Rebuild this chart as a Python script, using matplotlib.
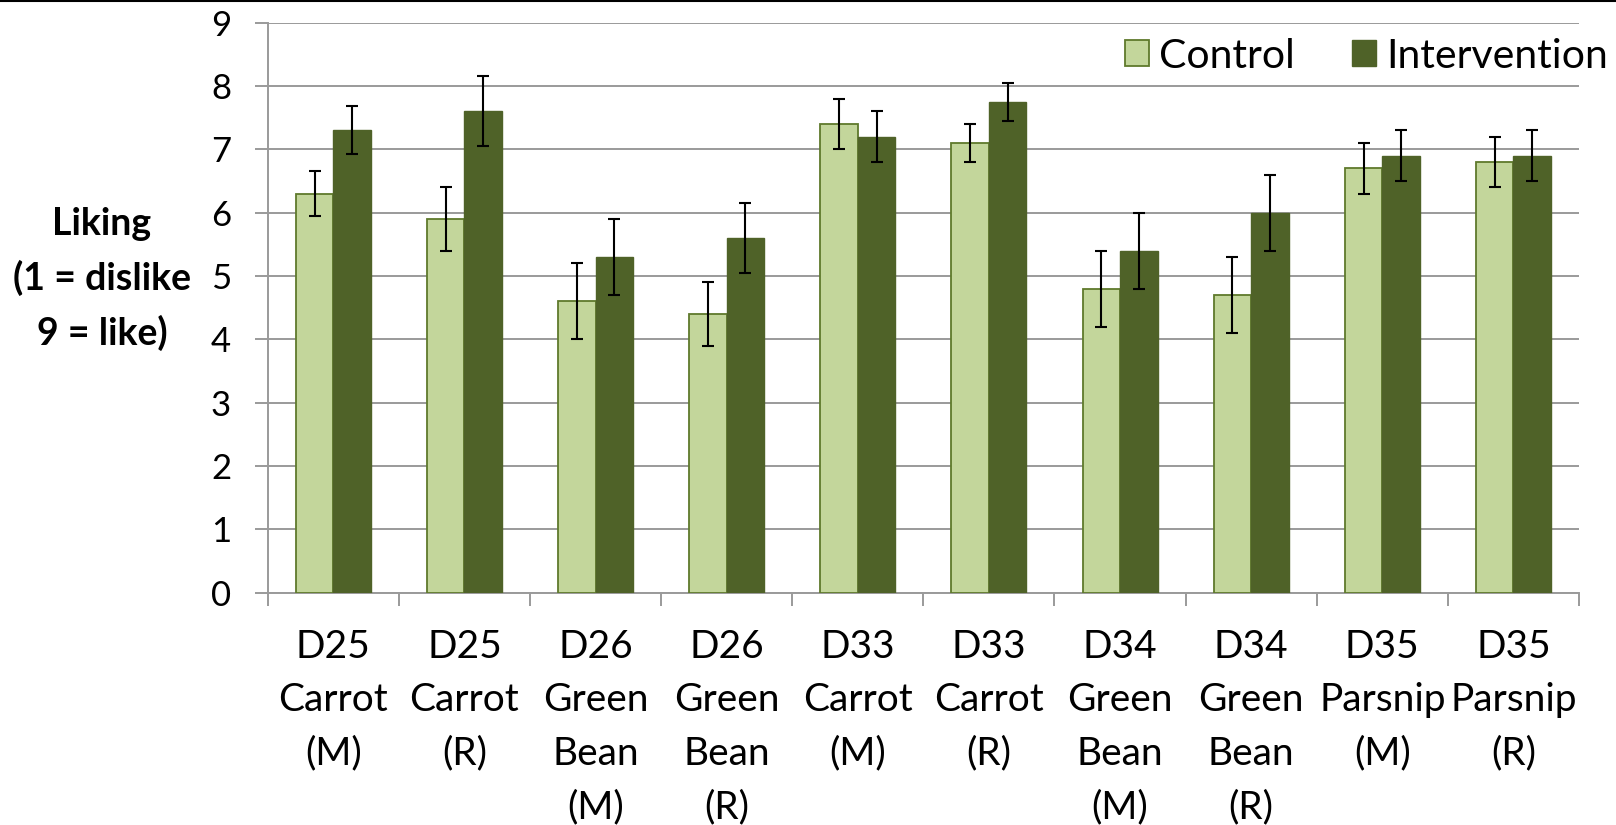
import matplotlib
matplotlib.use("Agg")
import matplotlib.pyplot as plt
from matplotlib.lines import Line2D
import numpy as np

categories = ["D25\nCarrot\n(M)", "D25\nCarrot\n(R)", "D26\nGreen\nBean\n(M)", "D26\nGreen\nBean\n(R)",
              "D33\nCarrot\n(M)", "D33\nCarrot\n(R)", "D34\nGreen\nBean\n(M)", "D34\nGreen\nBean\n(R)",
              "D35\nParsnip\n(M)", "D35\nParsnip\n(R)"]
control = [6.3, 5.9, 4.6, 4.4, 7.4, 7.1, 4.8, 4.7, 6.7, 6.8]
control_err = [0.35, 0.5, 0.6, 0.5, 0.4, 0.3, 0.6, 0.6, 0.4, 0.4]
intervention = [7.3, 7.6, 5.3, 5.6, 7.2, 7.75, 5.4, 6.0, 6.9, 6.9]
intervention_err = [0.38, 0.55, 0.6, 0.55, 0.4, 0.3, 0.6, 0.6, 0.4, 0.4]
yticks = [0, 1, 2, 3, 4, 5, 6, 7, 8, 9]
series_names = ["Control", "Intervention"]

plt.rcParams['font.family'] = ['Lato', 'DejaVu Sans']

W, H = 1616, 825
fig = plt.figure(figsize=(W / 100, H / 100), dpi=100)
ax = fig.add_axes([267.7 / W, 1 - 592.7 / H, (1579 - 267.7) / W, (592.7 - 22.5) / H])

x = np.arange(len(categories))
bw = 0.2857
c_fill, c_edge, i_fill = "#C3D69B", "#5F7A2C", "#4F6228"
ekw = dict(ecolor="black", elinewidth=1.5, capsize=4.3, capthick=1.5)
ax.bar(x - bw / 2, control, bw, color=c_fill, edgecolor=c_edge, linewidth=1.3,
       yerr=control_err, error_kw=ekw, label=series_names[0], zorder=3)
ax.bar(x + bw / 2, intervention, bw, color=i_fill, edgecolor=i_fill, linewidth=1.0,
       yerr=intervention_err, error_kw=ekw, label=series_names[1], zorder=3)

gc = "#9A9A9A"
ax.set_xlim(-0.5, len(categories) - 0.5)
ax.set_ylim(0, 9)
ax.set_yticks(yticks)
ax.set_yticklabels([str(v) for v in yticks])
ax.yaxis.grid(True, color=gc, linewidth=1.4, zorder=0)
ax.set_axisbelow(True)
for s in ["top", "right"]:
    ax.spines[s].set_visible(False)
for s in ["left", "bottom"]:
    ax.spines[s].set_color(gc)
    ax.spines[s].set_linewidth(1.4)

ax.set_xticks(np.arange(-0.5, len(categories), 1.0))
ax.set_xticklabels([])
ax.set_xticks(x, minor=True)
ax.set_xticklabels(categories, minor=True, fontsize=28, linespacing=1.6)
ax.tick_params(axis="x", which="major", length=9.4, width=1.4, color=gc, direction="out")
ax.tick_params(axis="x", which="minor", length=0, pad=26)
ax.tick_params(axis="y", length=9.4, width=1.4, color=gc, direction="out", labelsize=25, pad=17)

fig.text(102 / W, 1 - 279 / H, "Liking\n(1 = dislike\n9 = like)", ha="center", va="center",
         multialignment="center", fontsize=27, fontweight="bold", linespacing=1.62)

ax.legend(loc="center left", bbox_to_anchor=(1124.7 / W, 1 - 56 / H), bbox_transform=fig.transFigure,
          ncol=2, frameon=False, fontsize=29.5, handlelength=0.59, handleheight=0.59,
          handletextpad=0.24, columnspacing=1.4, borderaxespad=0, borderpad=0)

fig.add_artist(Line2D([0, 1], [1 - 0.8 / H, 1 - 0.8 / H], color="black", linewidth=1.5,
                      transform=fig.transFigure))

fig.savefig("out.png", dpi=100)
